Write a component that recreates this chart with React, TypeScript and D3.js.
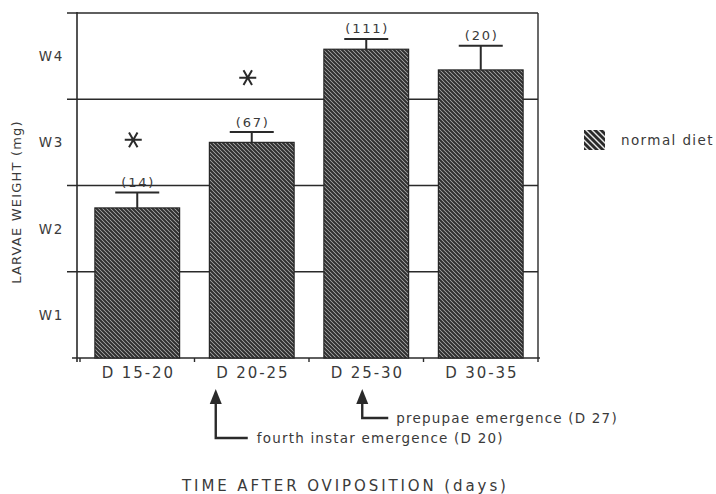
import React from "react";
import * as d3 from "d3";

const categories = ["D 15-20", "D 20-25", "D 25-30", "D 30-35"];
const means = [1.74, 2.5, 3.58, 3.34];
const errTops = [1.92, 2.62, 3.7, 3.62];
const nLabels = ["(14)", "(67)", "(111)", "(20)"];
const yTickLabels = ["W1", "W2", "W3", "W4"];
const yTickPos = [0.5, 1.5, 2.5, 3.5];
const gridValues = [1, 2, 3, 4];
const asteriskCats = [0, 1];
const asteriskValues = [2.53, 3.25];
const annotationTexts = ["fourth instar emergence (D 20)", "prepupae emergence (D 27)"];
const annotationCats = [1, 2];

const W = 716;
const H = 494;
const left = 77;
const right = 538;
const top = 13;
const bottom = 358;
const ink = "#2a2a2a";
const textInk = "#3a3a3a";
const font = "'DejaVu Sans', Verdana, sans-serif";

export default function App() {
  const x = d3.scaleBand<string>().domain(categories).range([80, 538]).paddingInner(0.26).paddingOuter(0.13);
  const y = d3.scaleLinear().domain([0, 4]).range([bottom, top]);
  const step = x.step();
  const boundaries = categories.map((c) => (x(c) as number) - (step - x.bandwidth()) / 2);
  boundaries.push(boundaries[boundaries.length - 1] + step);

  const star = (cx: number, cy: number, r: number) => {
    let d = "";
    [0, 60, 120].forEach((a) => {
      const t = (a * Math.PI) / 180;
      const dx = Math.cos(t) * r;
      const dy = Math.sin(t) * r;
      d += `M${cx - dx},${cy - dy}L${cx + dx},${cy + dy}`;
    });
    return d;
  };

  const annArrowDx = [-36, -4];
  const annY = [438, 418];
  const annLineLen = [32, 26];
  const annTextDx = [41, 34];

  return (
    <svg width={W} height={H} style={{ display: "block", position: "absolute", left: 0, top: 0, background: "#fff" }}>
      <defs>
        <pattern id="hatch" patternUnits="userSpaceOnUse" width="4" height="4">
          <rect width="4" height="4" fill="#b8b8b8" />
          <path d="M-1,-1L5,5M-1,3L1,5M3,-1L5,1" stroke="#303030" strokeWidth="2.1" />
        </pattern>
        <pattern id="hatchLegend" patternUnits="userSpaceOnUse" width="6" height="6">
          <rect width="6" height="6" fill="#2a2a2a" />
          <path d="M-1,-1L7,7M-1,5L1,7M5,-1L7,1" stroke="#e8e8e8" strokeWidth="1.4" />
        </pattern>
      </defs>

      {/* grid lines */}
      {gridValues.map((v) => (
        <line key={v} x1={67} x2={right} y1={y(v)} y2={y(v)} stroke={ink} strokeWidth={1.4} />
      ))}
      {/* right frame */}
      <line x1={right} x2={right} y1={top} y2={bottom} stroke={ink} strokeWidth={1.4} />
      {/* left axis */}
      <line x1={left} x2={left} y1={top - 1} y2={bottom + 4} stroke={ink} strokeWidth={1.6} />
      {/* bottom axis */}
      <line x1={72} x2={right + 2} y1={bottom} y2={bottom} stroke={ink} strokeWidth={1.6} />
      {boundaries.map((b, i) => (
        <line key={i} x1={b} x2={b} y1={bottom} y2={bottom + 4} stroke={ink} strokeWidth={1.4} />
      ))}

      {/* y tick labels */}
      {yTickLabels.map((t, i) => (
        <text key={t} x={64} y={y(yTickPos[i])} textAnchor="end" dominantBaseline="central" fontFamily={font} fontSize={13.5} letterSpacing={1.6} fill={textInk}>
          {t}
        </text>
      ))}

      {/* bars */}
      {categories.map((c, i) => (
        <rect key={c} x={x(c)} y={y(means[i])} width={x.bandwidth()} height={y(0) - y(means[i])} fill="url(#hatch)" stroke="#262626" strokeWidth={1.2} />
      ))}

      {/* error bars */}
      {categories.map((c, i) => {
        const cx = (x(c) as number) + x.bandwidth() / 2;
        return (
          <g key={c} stroke={ink} strokeWidth={2}>
            <line x1={cx} x2={cx} y1={y(means[i])} y2={y(errTops[i])} />
            <line x1={cx - 22} x2={cx + 22} y1={y(errTops[i])} y2={y(errTops[i])} />
          </g>
        );
      })}

      {/* n labels */}
      {categories.map((c, i) => (
        <text key={c} x={(x(c) as number) + x.bandwidth() / 2 + 1} y={y(errTops[i]) - 10} textAnchor="middle" dominantBaseline="central" fontFamily={font} fontSize={13} letterSpacing={1.8} fill={textInk}>
          {nLabels[i]}
        </text>
      ))}

      {/* asterisks */}
      {asteriskCats.map((ci, i) => {
        const cx = (x(categories[ci]) as number) + x.bandwidth() / 2 - 4;
        return <path key={i} d={star(cx, y(asteriskValues[i]), 8.5)} stroke={ink} strokeWidth={2} fill="none" />;
      })}

      {/* x tick labels */}
      {categories.map((c) => (
        <text key={c} x={(x(c) as number) + x.bandwidth() / 2 + 1} y={373} textAnchor="middle" dominantBaseline="central" fontFamily={font} fontSize={15} letterSpacing={1.9} fill={textInk}>
          {c}
        </text>
      ))}

      {/* annotations */}
      {annotationCats.map((ci, i) => {
        const ax = (x(categories[ci]) as number) + x.bandwidth() / 2 + annArrowDx[i];
        const yy = annY[i];
        return (
          <g key={i}>
            <path d={`M${ax},389L${ax - 6},404L${ax + 6},404Z`} fill={ink} />
            <path d={`M${ax},403L${ax},${yy}L${ax + annLineLen[i]},${yy}`} stroke={ink} strokeWidth={2.4} fill="none" />
            <text x={ax + annTextDx[i]} y={yy} dominantBaseline="central" fontFamily={font} fontSize={13.5} letterSpacing={1.2} fill={textInk}>
              {annotationTexts[i]}
            </text>
          </g>
        );
      })}

      {/* axis titles */}
      <text transform={`translate(16,202) rotate(-90)`} textAnchor="middle" dominantBaseline="central" fontFamily={font} fontSize={13} letterSpacing={1.2} fill={textInk}>
        LARVAE WEIGHT (mg)
      </text>
      <text x={182} y={486} dominantBaseline="central" fontFamily={font} fontSize={15} letterSpacing={2.9} fill={textInk}>
        TIME AFTER OVIPOSITION (days)
      </text>

      {/* legend */}
      <rect x={584} y={130} width={21} height={20} fill="url(#hatchLegend)" />
      <text x={621} y={140} dominantBaseline="central" fontFamily={font} fontSize={13.5} letterSpacing={1.4} fill={textInk}>
        normal diet
      </text>
    </svg>
  );
}
